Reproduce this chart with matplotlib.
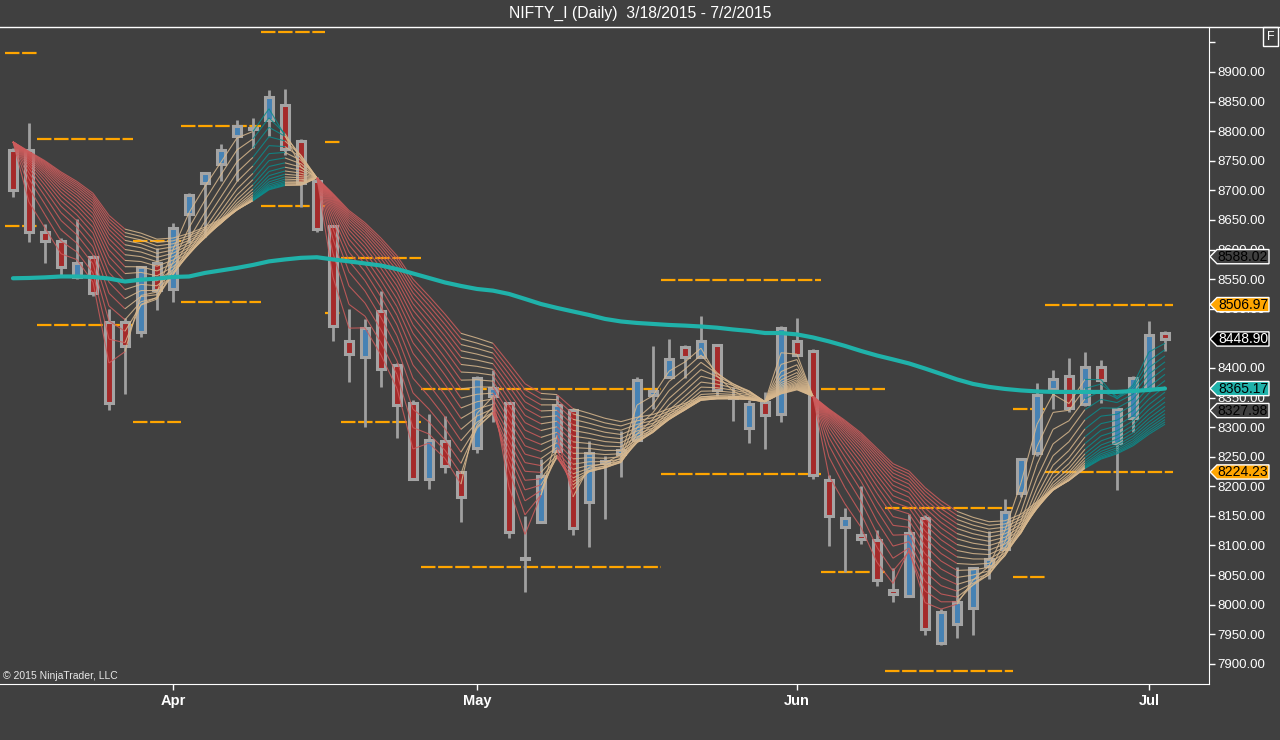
import numpy as np
import pandas as pd
import matplotlib
matplotlib.use('Agg')
import matplotlib.pyplot as plt
from matplotlib.collections import LineCollection
from matplotlib.patches import Rectangle, Polygon

plt.rcParams['font.family'] = ['Liberation Sans', 'DejaVu Sans']

# trading days (NSE holidays removed)
holidays = ['2015-04-02', '2015-04-03', '2015-04-14', '2015-05-01']
dates = pd.bdate_range('2015-03-18', '2015-07-02').drop(pd.to_datetime(holidays))

opens = [8768, 8769, 8630, 8615, 8553, 8588, 8478, 8478, 8460, 8578,
         8533, 8660, 8712, 8744, 8791, 8803, 8819, 8845, 8784, 8715,
         8639, 8446, 8419, 8497, 8405, 8341, 8212, 8276, 8225, 8265,
         8353, 8341, 8077, 8139, 8260, 8329, 8174, 8240, 8255, 8278,
         8354, 8385, 8436, 8419, 8439, 8351, 8298, 8343, 8322, 8445,
         8429, 8210, 8131, 8118, 8109, 8025, 8015, 8146, 7936, 7968,
         7995, 8066, 8094, 8188, 8256, 8364, 8386, 8339, 8401, 8273,
         8315, 8364, 8459]
highs = [8772, 8813, 8643, 8620, 8651, 8590, 8499, 8484, 8572, 8603,
         8645, 8696, 8731, 8778, 8819, 8822, 8870, 8871, 8787, 8723,
         8640, 8499, 8482, 8530, 8408, 8346, 8322, 8319, 8226, 8386,
         8397, 8343, 8149, 8246, 8354, 8330, 8277, 8252, 8294, 8384,
         8437, 8449, 8439, 8488, 8440, 8368, 8346, 8359, 8471, 8484,
         8432, 8219, 8163, 8200, 8126, 8062, 8153, 8152, 7992, 8063,
         8063, 8125, 8178, 8247, 8374, 8397, 8416, 8427, 8414, 8332,
         8386, 8479, 8463]
lows = [8688, 8613, 8578, 8554, 8551, 8522, 8329, 8356, 8453, 8498,
        8512, 8611, 8622, 8716, 8716, 8771, 8791, 8760, 8672, 8630,
        8446, 8377, 8301, 8367, 8281, 8212, 8195, 8222, 8140, 8256,
        8309, 8112, 8022, 8138, 8259, 8118, 8097, 8144, 8216, 8277,
        8330, 8384, 8383, 8418, 8353, 8311, 8273, 8263, 8309, 8421,
        8212, 8099, 8056, 8103, 8032, 8004, 8014, 7949, 7932, 7944,
        7948, 8043, 8093, 8182, 8252, 8331, 8325, 8335, 8340, 8193,
        8292, 8363, 8429]
closes = [8700, 8629, 8615, 8571, 8578, 8526, 8340, 8437, 8570, 8531,
          8636, 8693, 8729, 8768, 8809, 8805, 8857, 8770, 8712, 8634,
          8470, 8424, 8468, 8399, 8337, 8212, 8278, 8234, 8182, 8383,
          8366, 8122, 8079, 8218, 8337, 8130, 8257, 8243, 8261, 8379,
          8361, 8415, 8418, 8445, 8363, 8349, 8339, 8320, 8467, 8422,
          8219, 8150, 8147, 8111, 8042, 8018, 8121, 7959, 7987, 8005,
          8062, 8077, 8156, 8246, 8354, 8381, 8332, 8401, 8380, 8331,
          8383, 8455, 8449]

# slow moving average (teal)
slow_ma = [8551.5, 8552, 8553, 8554.5, 8554.5, 8553.7, 8551, 8546, 8549, 8551,
           8553.7, 8554.5, 8560.5, 8564.7, 8569, 8574, 8580, 8583.3, 8586, 8587,
           8583.3, 8580, 8576.5, 8573, 8567, 8559.6, 8552, 8544.4, 8538.5, 8533.4,
           8530.6, 8525, 8516.6, 8508, 8501.4, 8495.4, 8489.5, 8482.8, 8478.5, 8476,
           8474.3, 8472.6, 8471.5, 8470, 8468, 8465, 8462.5, 8459, 8459, 8456.6,
           8451.5, 8444.8, 8437.2, 8428.7, 8421, 8414.4, 8407.6, 8399, 8389.9, 8380.6,
           8373, 8368, 8364.5, 8362, 8360.3, 8359.5, 8359.5, 8359.5, 8359.5, 8359.5,
           8361, 8362.8, 8365.2]

# ribbon: restart bars / seed prices, and trend state per bar (d=down, u=up, t=strong up)
reset_bars = [0, 19, 47, 50]
reset_seeds = [8782, 8721, 8343, 8352]
trend = ('d' * 8 + 'u' * 8 + 't' * 2 + 'u' * 2 + 'd' * 9 + 'u' * 2 + 'd' * 3 + 'u'
         + 'd' + 'u' * 15 + 'd' * 9 + 'u' * 8 + 't' * 5)

# dashed orange levels: (from bar, to bar, price)
levels = [(-0.5, 1.5, 8932), (-0.5, 1.5, 8639), (1.5, 7.5, 8787), (1.5, 7.5, 8473),
          (7.5, 10.5, 8615), (7.5, 10.5, 8308), (10.5, 15.5, 8809), (10.5, 15.5, 8512),
          (15.5, 19.5, 8968), (15.5, 19.5, 8673), (19.5, 20.5, 8782), (19.5, 20.5, 8493),
          (20.5, 25.5, 8585), (20.5, 25.5, 8308), (25.5, 40.5, 8364), (25.5, 40.5, 8063),
          (40.5, 50.5, 8549), (40.5, 50.5, 8221), (50.5, 54.5, 8364), (50.5, 54.5, 8056),
          (54.5, 62.5, 8164), (54.5, 62.5, 7888), (62.5, 64.5, 8330), (62.5, 64.5, 8047),
          (64.5, 72.5, 8507), (64.5, 72.5, 8225)]

# price tags on the right axis
tag_values = [8588.02, 8506.97, 8448.90, 8365.17, 8327.98, 8224.23]
tag_fill = ['#404040', '#ffa500', '#000000', '#20b2aa', '#404040', '#ffa500']
tag_text = ['black', 'black', 'white', 'black', 'black', 'black']

BG = '#404040'
n = len(closes)
x = np.arange(n)
ymin, ymax = 7866, 8976

fig = plt.figure(figsize=(12.8, 7.4), dpi=100, facecolor=BG)
ax = fig.add_axes([0, 56 / 740, 1209 / 1280, 657 / 740])
ax.set_facecolor(BG)
ax.set_xlim(-0.81, 74.75)
ax.set_ylim(ymin, ymax)

# levels
for s, e, p in levels:
    ax.plot([s, e], [p, p], color='#ffa500', lw=1.6, dashes=(6.5, 1.2),
            dash_capstyle='butt', solid_capstyle='butt', zorder=2)

# candles
ax.vlines(x, lows, highs, color='#a0a0a0', lw=2, zorder=3)
w = 0.5
for xi, o, c in zip(x, opens, closes):
    if abs(c - o) < 3:
        fc = '#a0a0a0'
    elif c > o:
        fc = '#4682b4'
    else:
        fc = '#a52a2a'
    ax.add_patch(Rectangle((xi - w / 2, min(o, c)), w, max(abs(c - o), 2),
                           fc=fc, ec='#a4a4a4', lw=2.2, zorder=4))

# ribbon of EMAs
periods = np.linspace(2, 18, 18)
alphas = 2 / (periods + 1)
rib = np.zeros((len(periods), n))
for i in range(n):
    if i in reset_bars:
        rib[:, i] = reset_seeds[reset_bars.index(i)]
    else:
        rib[:, i] = rib[:, i - 1] + alphas * (closes[i] - rib[:, i - 1])

trend_colors = {'d': '#cd5c5c', 'u': '#d8b88e', 't': '#0b8c8c'}
segs, cols = [], []
for i in range(1, n):
    for k in range(len(periods)):
        segs.append([(i - 1, rib[k, i - 1]), (i, rib[k, i])])
        cols.append(trend_colors[trend[i]])
ax.add_collection(LineCollection(segs, colors=cols, linewidths=0.8, alpha=0.85, zorder=5))

# slow average
ax.plot(x, slow_ma, color='#20b2aa', lw=3, zorder=6, solid_capstyle='round')

# axes styling
for side in ['left', 'top']:
    ax.spines[side].set_visible(False)
ax.spines['bottom'].set_color('white')
ax.spines['right'].set_color('white')
ax.yaxis.tick_right()
yt = np.arange(7900, 8951, 50)
ax.set_yticks(yt)
# 8950 sits under the top edge and 8450 under the last-price tag, so no text there
ax.set_yticklabels([f'{v:.2f}' if v not in (8450, 8950) else '' for v in yt])
ax.tick_params(axis='y', colors='white', length=4.5, width=1, pad=1.5, labelsize=9.5)

month_pos = [i for i in range(1, n) if dates[i].month != dates[i - 1].month]
ax.set_xticks(month_pos)
ax.set_xticklabels([dates[i].strftime('%b') for i in month_pos], fontweight='bold')
ax.tick_params(axis='x', colors='white', length=4, width=1, pad=3, labelsize=10.5)

# right-hand tags
tax = fig.add_axes([1209 / 1280, 56 / 740, 71 / 1280, 657 / 740], zorder=5)
tax.set_xlim(0, 71)
tax.set_ylim(ymin, ymax)
tax.axis('off')
h = 12
for v, fc, tc in zip(tag_values, tag_fill, tag_text):
    poly = [(1, v), (8, v + h), (60, v + h), (60, v - h), (8, v - h)]
    tax.add_patch(Polygon(poly, closed=True, fc=fc, ec='white', lw=1))
    tax.text(34, v, f'{v:.2f}', color=tc, fontsize=10, ha='center', va='center')

# frame and texts
fig.add_artist(plt.Line2D([0, 1], [713 / 740, 713 / 740], color='white', lw=1))
fig.text(0.5, 727 / 740, 'NIFTY_I (Daily)  3/18/2015 - 7/2/2015', color='white',
         fontsize=11.3, ha='center', va='center')
fig.text(1270.5 / 1280, 703.5 / 740, 'F', color='white', fontsize=9, ha='center', va='center',
         bbox=dict(boxstyle='square,pad=0.3', fc='none', ec='white', lw=1))
fig.text(3 / 1280, 59 / 740, '\u00a9 2015 NinjaTrader, LLC', color='#e8e8e8',
         fontsize=7.5, ha='left', va='bottom')

fig.savefig('out.png', dpi=100, facecolor=BG)
